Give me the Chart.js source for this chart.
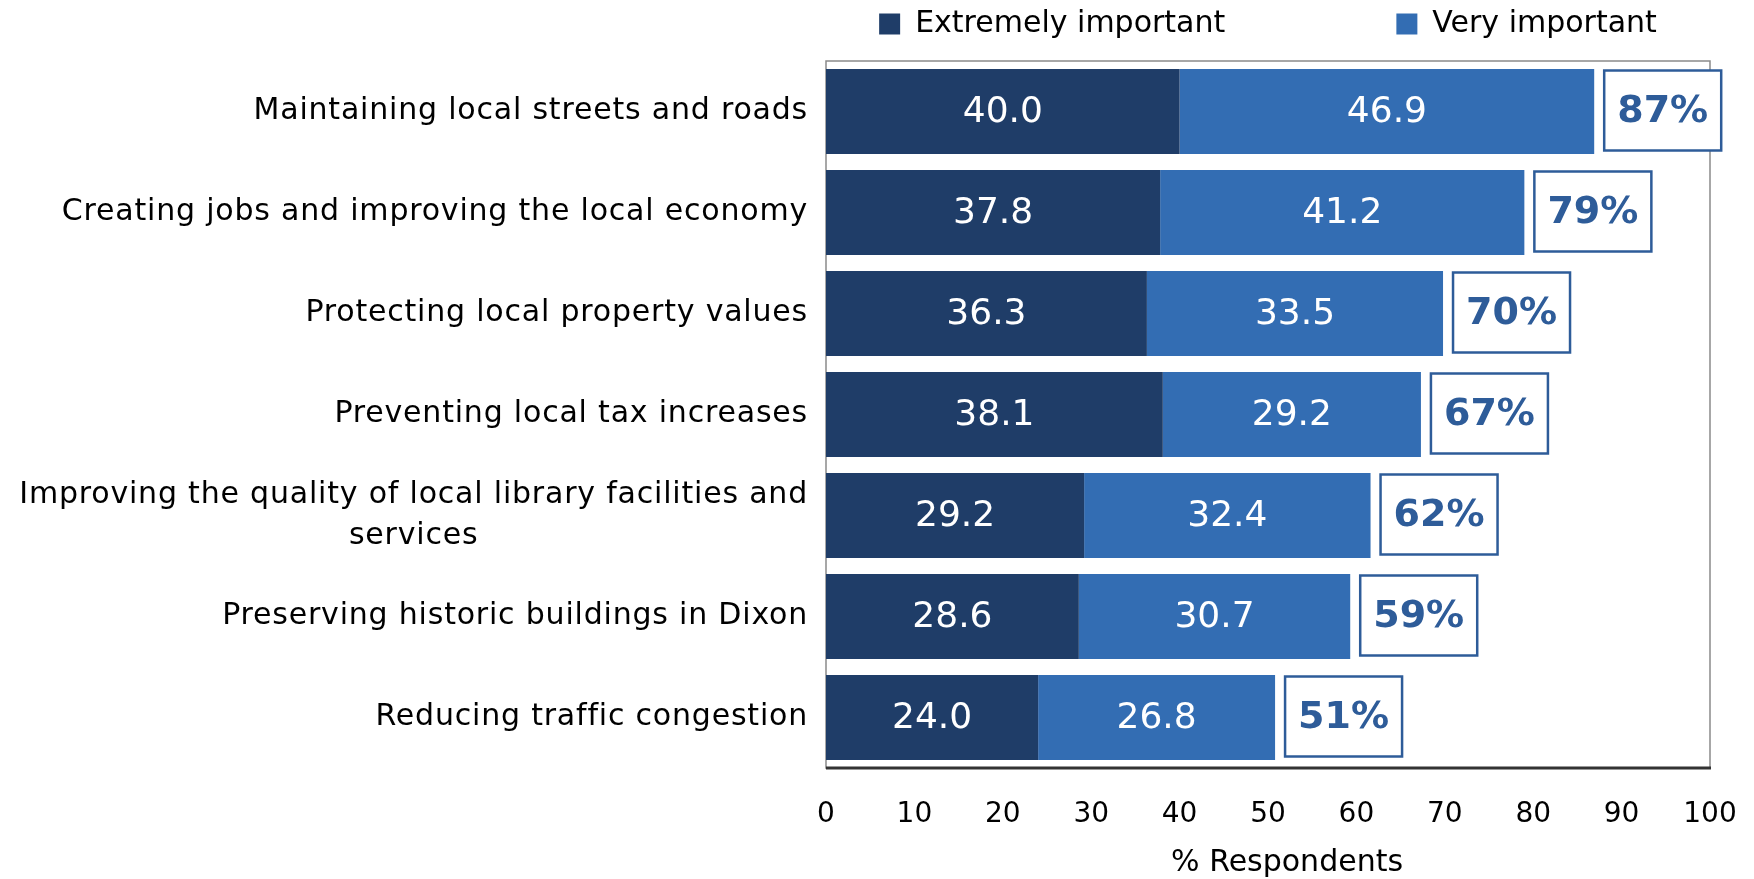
<!DOCTYPE html>
<html>
<head>
<meta charset="utf-8">
<script src="https://cdn.jsdelivr.net/npm/chart.js@4.4.0/dist/chart.umd.min.js"></script>
<style>
  html, body { margin: 0; padding: 0; background: #fff; }
  #wrap { width: 1754px; height: 879px; }
</style>
</head>
<body>
<div id="wrap"><canvas id="importanceChart"></canvas></div>
<script>
const categories = [
  'Maintaining local streets and roads',
  'Creating jobs and improving the local economy',
  'Protecting local property values',
  'Preventing local tax increases',
  ['Improving the quality of local library facilities and', 'services'],
  'Preserving historic buildings in Dixon',
  'Reducing traffic congestion'
];
const extremelyImportant = [40.0, 37.8, 36.3, 38.1, 29.2, 28.6, 24.0];
const veryImportant = [46.9, 41.2, 33.5, 29.2, 32.4, 30.7, 26.8];
const totalLabels = ['87%', '79%', '70%', '67%', '62%', '59%', '51%'];
const xTicks = [0, 10, 20, 30, 40, 50, 60, 70, 80, 90, 100];

const DARK = '#1f3d68';
const LIGHT = '#336db3';
const BOX = '#2e5c99';
const FONT = "'DejaVu Sans', sans-serif";

// frame round the plot area
const plotFrame = {
  id: 'plotFrame',
  beforeDatasetsDraw(chart) {
    const { ctx, chartArea: a } = chart;
    ctx.save();
    ctx.strokeStyle = '#8a8a8a';
    ctx.lineWidth = 1.5;
    ctx.strokeRect(a.left, a.top, a.right - a.left, a.bottom - a.top);
    ctx.strokeStyle = '#333';
    ctx.lineWidth = 3;
    ctx.beginPath();
    ctx.moveTo(a.left, a.bottom);
    ctx.lineTo(a.right + 1, a.bottom);
    ctx.stroke();
    ctx.restore();
  }
};

// category names: right aligned block, extra lines centred under the first
const categoryLabels = {
  id: 'categoryLabels',
  afterDraw(chart) {
    const { ctx, chartArea } = chart;
    const yScale = chart.scales.y;
    ctx.save();
    ctx.font = '30px ' + FONT;
    ctx.letterSpacing = '0.8px';
    ctx.fillStyle = '#000';
    ctx.textBaseline = 'middle';
    ctx.textAlign = 'center';
    const right = chartArea.left - 18;
    const lineH = 41;
    categories.forEach((lab, i) => {
      const lines = Array.isArray(lab) ? lab : [lab];
      const w = Math.max(...lines.map(l => ctx.measureText(l).width));
      const cx = right - w / 2;
      const y0 = yScale.getPixelForValue(i) - (lines.length - 1) * lineH / 2;
      lines.forEach((l, k) => ctx.fillText(l, cx, y0 + k * lineH));
    });
    ctx.restore();
  }
};

// values inside the bars and boxed totals at the end
const barLabels = {
  id: 'barLabels',
  afterDatasetsDraw(chart) {
    const { ctx } = chart;
    const xScale = chart.scales.x;
    ctx.save();
    ctx.textAlign = 'center';
    ctx.textBaseline = 'middle';
    ctx.font = '36px ' + FONT;
    ctx.fillStyle = '#fff';
    chart.data.datasets.forEach((ds, i) => {
      chart.getDatasetMeta(i).data.forEach((bar, j) => {
        ctx.fillText(ds.data[j].toFixed(1), (bar.x + bar.base) / 2, bar.y + 1);
      });
    });
    const meta = chart.getDatasetMeta(1);
    ctx.font = 'bold 38px ' + FONT;
    meta.data.forEach((bar, j) => {
      const end = xScale.getPixelForValue(extremelyImportant[j] + veryImportant[j]);
      const w = 117, h = 80;
      const left = end + 10, top = bar.y - h / 2 - 1;
      ctx.fillStyle = '#fff';
      ctx.fillRect(left, top, w, h);
      ctx.strokeStyle = BOX;
      ctx.lineWidth = 2.5;
      ctx.strokeRect(left, top, w, h);
      ctx.fillStyle = BOX;
      ctx.fillText(totalLabels[j], left + w / 2, top + h / 2 + 2);
    });
    ctx.restore();
  }
};

// fixed legend height so the plot starts where the reference does
const legendHeight = {
  id: 'legendHeight',
  beforeInit(chart) {
    const fit = chart.legend.fit;
    chart.legend.fit = function () {
      fit.call(this);
      this.height = 61;
    };
  }
};

const ctx = document.getElementById('importanceChart');
const chart = new Chart(ctx, {
  type: 'bar',
  data: {
    labels: categories,
    datasets: [
      { label: 'Extremely important', data: extremelyImportant, backgroundColor: DARK },
      { label: 'Very important', data: veryImportant, backgroundColor: LIGHT }
    ]
  },
  options: {
    indexAxis: 'y',
    responsive: true,
    maintainAspectRatio: false,
    animation: false,
    events: [],
    layout: { padding: { left: 0, right: 44, top: 0, bottom: 0 } },
    datasets: { bar: { barPercentage: 0.84, categoryPercentage: 1 } },
    scales: {
      x: {
        stacked: true,
        min: 0,
        max: 100,
        grid: { display: false, drawTicks: false },
        border: { display: false },
        afterBuildTicks(scale) { scale.ticks = xTicks.map(v => ({ value: v })); },
        ticks: { font: { family: FONT, size: 28 }, color: '#000', padding: 30 },
        title: {
          display: true,
          text: '    % Respondents',
          font: { family: FONT, size: 30, lineHeight: 1 },
          color: '#000',
          padding: { top: 8, bottom: 1 }
        },
        afterFit(scale) {
          scale.height = 111;
          scale.paddingLeft = 0;
          scale.paddingRight = 0;
        }
      },
      y: {
        stacked: true,
        grid: { display: false, drawTicks: false },
        border: { display: false },
        ticks: { display: false },
        afterFit(scale) { scale.width = 826; }
      }
    },
    plugins: {
      legend: {
        position: 'top',
        fullSize: false,
        labels: {
          font: { family: FONT, size: 30 },
          color: '#000',
          boxWidth: 21,
          boxHeight: 21,
          padding: 9,
          generateLabels(chart) {
            return chart.data.datasets.map((ds, i) => ({
              text: i === 0 ? ds.label + '                 ' : ds.label,
              fillStyle: ds.backgroundColor,
              strokeStyle: ds.backgroundColor,
              lineWidth: 0,
              datasetIndex: i
            }));
          }
        }
      },
      tooltip: { enabled: false }
    }
  },
  plugins: [plotFrame, barLabels, categoryLabels, legendHeight]
});
</script>
</body>
</html>
